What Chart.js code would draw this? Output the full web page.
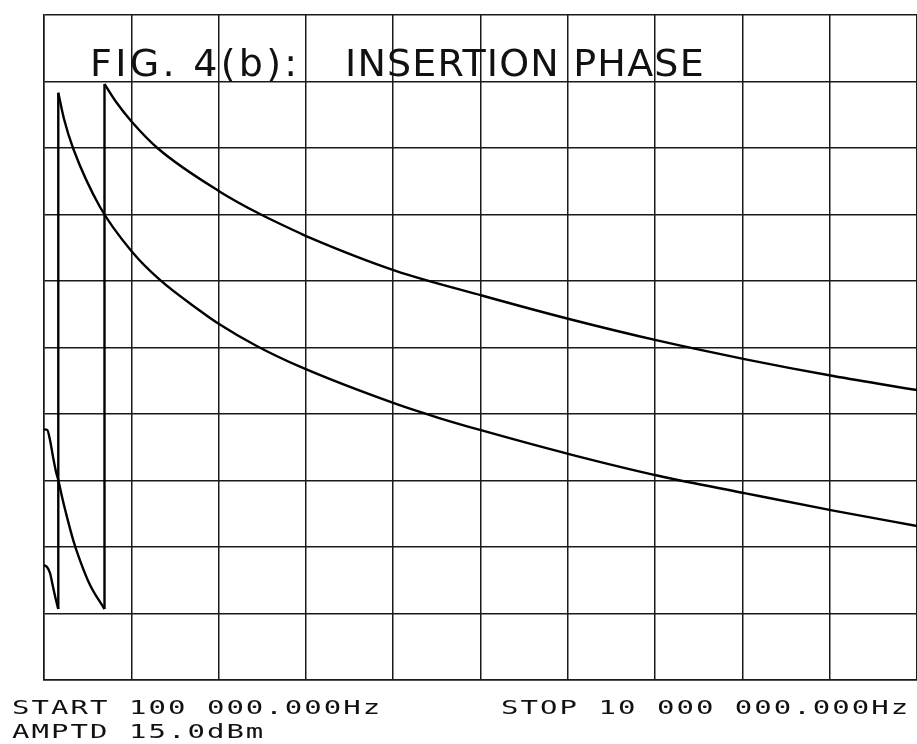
<!DOCTYPE html>
<html>
<head>
<meta charset="utf-8">
<title>Fig. 4(b) Insertion Phase</title>
<script src="https://cdn.jsdelivr.net/npm/chart.js@4.4.0/dist/chart.umd.min.js"></script>
<style>
    body { margin: 0; background: #fff; }
    #wrap { position: relative; width: 917px; height: 744px; overflow: hidden; }
    #plot { position: absolute; left: 0; top: 0; }
    .hand { position: absolute; top: 44px; font-family: "DejaVu Sans", sans-serif; font-size: 38px; line-height: 38px; color: #111; white-space: pre; }
    .plotter { position: absolute; font-family: "DejaVu Sans Mono", monospace; font-size: 20px; line-height: 20px; color: #111; white-space: pre; letter-spacing: 1.4px; transform: scaleX(1.45); transform-origin: left top; }
</style>
</head>
<body>
<div id="wrap">
    <canvas id="plot" width="917" height="744"></canvas>
    <div class="hand" style="left:90px; letter-spacing:3.3px;">FIG. 4(b):</div>
    <div class="hand" style="left:345px; letter-spacing:1.2px;">INSERTION PHASE</div>
    <div class="plotter" style="left:12px; top:697px;">START 100 000.000Hz</div>
    <div class="plotter" style="left:501px; top:697px;">STOP 10 000 000.000Hz</div>
    <div class="plotter" style="left:12px; top:721px;">AMPTD 15.0dBm</div>
</div>
<script>
// sweep 100 kHz .. 10 MHz, linear, 10 divisions (values in MHz)
const xGridMHz = [0.1, 1.09, 2.08, 3.07, 4.06, 5.05, 6.04, 7.03, 8.02, 9.01, 10.0];
// phase scale 45 deg/div, 10 divisions
const yMin = -225;
const yMax = 225;
const yStep = 45;

// trace A: wraps from -180 to +180 near 0.79 MHz
const freqA = [0.1, 0.137, 0.168, 0.202, 0.236, 0.262, 0.304, 0.349, 0.432, 0.508, 0.622, 0.786,
               0.786, 0.918, 1.095, 1.396, 2.085, 2.549, 3.003, 3.086, 4.08, 5.075, 6.065, 7.066, 8.057, 9.051, 10.0];
const phaseA = [-55.4, -55.8, -62.6, -73.9, -84.0, -89.7, -101.0, -112.0, -130.5, -144.0, -160.7, -177.0,
                178.3, 166.1, 152.8, 134.5, 105.8, 90.3, 77.3, 75.0, 52.0, 35.0, 19.1, 4.6, -8.0, -19.3, -28.8];

// trace B: wraps near 0.26 MHz
const freqB = [0.1, 0.134, 0.168, 0.202, 0.236, 0.262,
               0.262, 0.327, 0.432, 0.735, 1.098, 1.415, 1.869, 2.085, 2.512, 3.003, 4.092, 4.591, 5.075, 6.065, 7.066, 8.057, 9.051, 10.0];
const phaseB = [-147.2, -148.5, -152.6, -161.9, -170.9, -177.0,
                172.4, 154.6, 134.5, 95.1, 64.8, 45.7, 24.9, 15.9, 1.0, -13.0, -38.2, -47.9, -56.3, -72.3, -86.8, -98.7, -110.4, -120.8];

// split a trace at its phase wrap (repeated frequency) so each branch can be smoothed
function branches(xs, ys) {
    const pts = xs.map((x, i) => ({ x: x, y: ys[i] }));
    let k = 1;
    while (k < pts.length && pts[k].x !== pts[k - 1].x) k++;
    return [pts.slice(0, k), pts.slice(k - 1, k + 1), pts.slice(k)];
}

const gridColor = '#1a1a1a';

function traceSets(name, xs, ys) {
    const parts = branches(xs, ys);
    return parts.map((p, i) => ({
        label: name + ' ' + i,
        data: p,
        borderColor: '#000',
        borderWidth: 2.4,
        pointRadius: 0,
        cubicInterpolationMode: i === 1 ? 'default' : 'monotone',
        tension: i === 1 ? 0 : 0.4,
        fill: false
    }));
}

const ctx = document.getElementById('plot').getContext('2d');
new Chart(ctx, {
    type: 'line',
    data: {
        datasets: traceSets('A', freqA, phaseA).concat(traceSets('B', freqB, phaseB))
    },
    options: {
        responsive: false,
        animation: false,
        layout: { padding: { left: 44, top: 15, right: 0, bottom: 64 } },
        plugins: {
            legend: { display: false },
            tooltip: { enabled: false }
        },
        scales: {
            x: {
                type: 'linear',
                min: xGridMHz[0],
                max: xGridMHz[xGridMHz.length - 1],
                afterBuildTicks: function(scale) {
                    scale.ticks = xGridMHz.map(v => ({ value: v }));
                },
                ticks: { display: false },
                grid: { color: gridColor, lineWidth: 1.5, drawTicks: false, tickLength: 0 },
                border: { color: gridColor, width: 1.5 }
            },
            y: {
                min: yMin,
                max: yMax,
                ticks: { display: false, stepSize: yStep },
                grid: { color: gridColor, lineWidth: 1.5, drawTicks: false, tickLength: 0 },
                border: { color: gridColor, width: 1.5 }
            }
        }
    }
});
</script>
</body>
</html>
